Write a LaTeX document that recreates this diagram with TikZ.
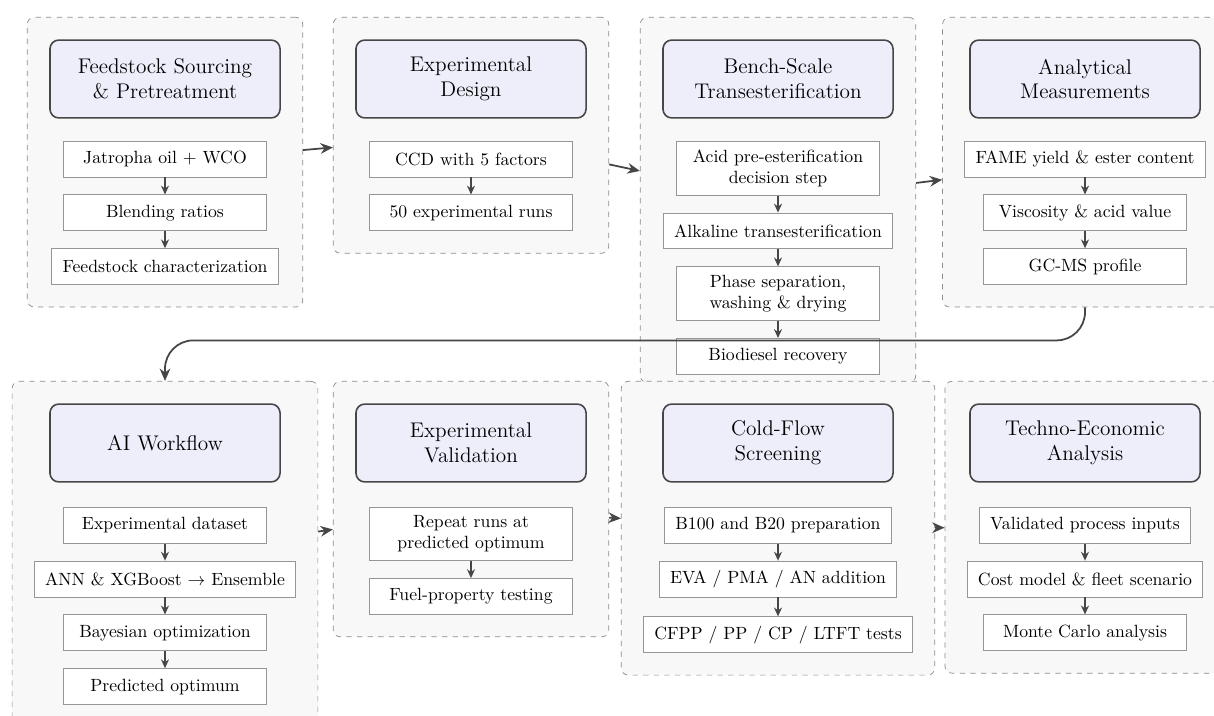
\documentclass[tikz,border=0pt]{standalone}
\usepackage{tikz}
\usepackage{amsmath}
\usetikzlibrary{positioning,fit,backgrounds,arrows.meta}
\definecolor{headfill}{RGB}{238,238,251}
\definecolor{groupfill}{RGB}{248,248,248}
\definecolor{groupline}{RGB}{140,140,140}
\definecolor{boxline}{RGB}{150,150,150}
\definecolor{arrowgray}{RGB}{70,70,70}

\begin{document}
\begin{tikzpicture}[
					x=0.565pt, y=0.565pt,
					header/.style={rectangle,rounded corners=5pt,draw=arrowgray,line width=0.9pt,fill=headfill,
						minimum width=130pt,minimum height=44pt,align=center,font=\large},
					substep/.style={rectangle,draw=boxline,fill=white,line width=0.5pt,minimum width=115pt,
						minimum height=20.3pt,inner xsep=6pt,inner ysep=4.7pt,align=center},
					group/.style={rectangle,rounded corners=4pt,draw=groupline,dashed,fill=groupfill,inner sep=12.4pt},
					link/.style={-{Stealth[length=5pt,width=4.5pt]},draw=arrowgray,line width=0.8pt},
					flow/.style={-{Stealth[length=7pt,width=6pt]},draw=arrowgray,line width=1pt},
					node distance=9.6pt,
					]
					\clip (0,0) rectangle (1214,-716);
					\node [header] (h1) at (165,-79) {Feedstock Sourcing\\ \& Pretreatment};
					\node [substep,below=12.4pt of h1] (s1a) {Jatropha oil $+$ WCO};
					\node [substep,below=of s1a] (s1b) {Blending ratios};
					\node [substep,below=of s1b] (s1c) {Feedstock characterization};
					\node [header] (h2) at (471,-79) {Experimental\\ Design};
					\node [substep,below=12.4pt of h2] (s2a) {CCD with 5 factors};
					\node [substep,below=of s2a] (s2b) {50 experimental runs};
					\node [header] (h3) at (778,-79) {Bench-Scale\\ Transesterification};
					\node [substep,below=12.4pt of h3] (s3a) {Acid pre-esterification\\ decision step};
					\node [substep,below=of s3a] (s3b) {Alkaline transesterification};
					\node [substep,below=of s3b] (s3c) {Phase separation,\\ washing \& drying};
					\node [substep,below=of s3c] (s3d) {Biodiesel recovery};
					\coordinate (s3end) at ([yshift=8pt]s3d.south);
					\node [header] (h4) at (1085,-79) {Analytical\\ Measurements};
					\node [substep,below=12.4pt of h4] (s4a) {FAME yield \& ester content};
					\node [substep,below=of s4a] (s4b) {Viscosity \& acid value};
					\node [substep,below=of s4b] (s4c) {GC-MS profile};
					\node [header] (h5) at (165,-443) {AI Workflow};
					\node [substep,below=13.6pt of h5] (s5a) {Experimental dataset};
					\node [substep,below=of s5a] (s5b) {ANN \& XGBoost $\rightarrow$ Ensemble};
					\node [substep,below=of s5b] (s5c) {Bayesian optimization};
					\node [substep,below=of s5c] (s5d) {Predicted optimum};
					\node [header] (h6) at (471,-443) {Experimental\\ Validation};
					\node [substep,below=13.6pt of h6] (s6a) {Repeat runs at\\ predicted optimum};
					\node [substep,below=of s6a] (s6b) {Fuel-property testing};
					\node [header] (h7) at (778,-443) {Cold-Flow\\ Screening};
					\node [substep,below=13.6pt of h7] (s7a) {B100 and B20 preparation};
					\node [substep,below=of s7a] (s7b) {EVA / PMA / AN addition};
					\node [substep,below=10.7pt of s7b] (s7c) {CFPP / PP / CP / LTFT tests};
					\node [header] (h8) at (1085,-443) {Techno-Economic\\ Analysis};
					\node [substep,below=13.6pt of h8] (s8a) {Validated process inputs};
					\node [substep,below=of s8a] (s8b) {Cost model \& fleet scenario};
					\node [substep,below=of s8b] (s8c) {Monte Carlo analysis};
					\begin{scope}[on background layer]
						\fill[white] (0,0) rectangle (1214,-716);
						\node [group,fit=(h1)(s1a)(s1b)(s1c)] (g1) {};
						\node [group,fit=(h2)(s2a)(s2b)] (g2) {};
						\node [group,fit=(h3)(s3a)(s3b)(s3c)(s3end)] (g3) {};
						\node [group,fit=(h4)(s4a)(s4b)(s4c)] (g4) {};
						\node [group,fit=(h5)(s5a)(s5b)(s5c)(s5d)] (g5) {};
						\node [group,fit=(h6)(s6a)(s6b)] (g6) {};
						\node [group,fit=(h7)(s7a)(s7b)(s7c)] (g7) {};
						\node [group,fit=(h8)(s8a)(s8b)(s8c)] (g8) {};
					\end{scope}
					\draw[link] (s1a) -- (s1b);
					\draw[link] (s1b) -- (s1c);
					\draw[link] (s2a) -- (s2b);
					\draw[link] (s3a) -- (s3b);
					\draw[link] (s3b) -- (s3c);
					\draw[link] (s3c) -- (s3d);
					\draw[link] (s4a) -- (s4b);
					\draw[link] (s4b) -- (s4c);
					\draw[link] (s5a) -- (s5b);
					\draw[link] (s5b) -- (s5c);
					\draw[link] (s5c) -- (s5d);
					\draw[link] (s6a) -- (s6b);
					\draw[link] (s7a) -- (s7b);
					\draw[link] (s7b) -- (s7c);
					\draw[link] (s8a) -- (s8b);
					\draw[link] (s8b) -- (s8c);
					\draw[flow] (g1) -- (g2);
					\draw[flow] (g2) -- (g3);
					\draw[flow] (g3) -- (g4);
					\draw[flow,rounded corners=16pt] (g4.south) -- ++(0,-33) -| (g5.north);
					\draw[flow] (g5) -- (g6);
					\draw[flow] (g6) -- (g7);
					\draw[flow] (g7) -- (g8);
				\end{tikzpicture}
\end{document}
